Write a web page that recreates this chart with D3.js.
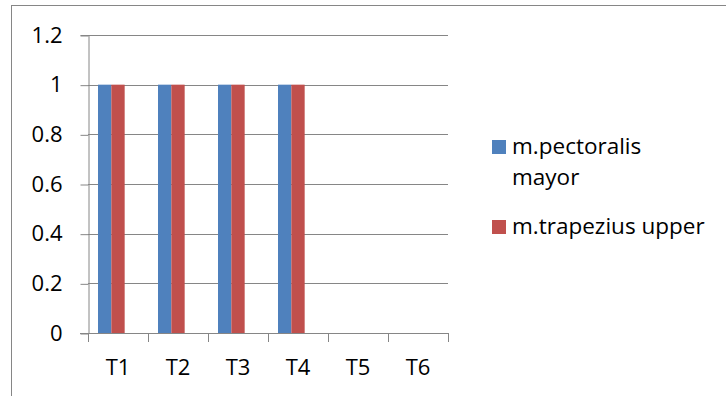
<!DOCTYPE html>
<html>
<head>
<meta charset="utf-8">
<script src="https://cdn.jsdelivr.net/npm/d3@7"></script>
<style>
  html, body { margin: 0; padding: 0; background: #fff; }
  svg { display: block; }
  text { font-family: "Open Sans", Lato, sans-serif; fill: #000; }
</style>
</head>
<body>
<svg id="chart" width="726" height="396"></svg>
<script>
// Categories, series and axis ticks
const categories = ["T1", "T2", "T3", "T4", "T5", "T6"];
const seriesNames = ["m.pectoralis mayor", "m.trapezius upper"];
const pectoralisValues = [1, 1, 1, 1, 0, 0];
const trapeziusValues = [1, 1, 1, 1, 0, 0];
const yTicks = [0, 0.2, 0.4, 0.6, 0.8, 1, 1.2];
const seriesColors = ["#4F81BD", "#C0504D"];

// Each category band holds three bar slots; the last one stays empty
const slotCount = 3;

const rows = categories.map((c, i) => ({
  cat: c,
  values: [pectoralisValues[i], trapeziusValues[i]]
}));

const svg = d3.select("#chart");
const gridColor = "#868686";
const fontSize = 22;
const fontFamily = "'Open Sans', Lato, sans-serif";

// Outer chart border
svg.append("rect")
  .attr("x", 11.5).attr("y", 5.5)
  .attr("width", 730).attr("height", 400)
  .attr("fill", "none").attr("stroke", gridColor).attr("stroke-width", 1);

const plot = { left: 88, right: 448, top: 35, bottom: 333 };

const x = d3.scaleBand().domain(categories).range([plot.left, plot.right]).padding(0);
const xs = d3.scaleBand().domain(d3.range(slotCount))
  .range([0, x.bandwidth()]).paddingInner(0).paddingOuter(0.75);
const y = d3.scaleLinear().domain([0, 1.2]).range([plot.bottom, plot.top]);

// Horizontal gridlines
svg.append("g").selectAll("line")
  .data(yTicks.filter(t => t > 0))
  .join("line")
  .attr("x1", plot.left).attr("x2", plot.right)
  .attr("y1", d => Math.round(y(d)) + 0.5).attr("y2", d => Math.round(y(d)) + 0.5)
  .attr("stroke", gridColor).attr("stroke-width", 1);

// Bars
const groups = svg.append("g").selectAll("g")
  .data(rows).join("g")
  .attr("transform", d => `translate(${x(d.cat)},0)`);
groups.selectAll("rect")
  .data(d => d.values.map((v, i) => ({ v, i })))
  .join("rect")
  .attr("x", d => xs(d.i))
  .attr("width", xs.bandwidth())
  .attr("y", d => y(d.v))
  .attr("height", d => y(0) - y(d.v))
  .attr("fill", d => seriesColors[d.i]);

// Y axis
const yAxis = svg.append("g")
  .attr("transform", `translate(${plot.left + 0.5},0)`)
  .call(d3.axisLeft(y).tickValues(yTicks).tickSize(8).tickPadding(18)
    .tickFormat(d3.format("~g")));
yAxis.select(".domain").attr("stroke", gridColor);
yAxis.selectAll(".tick line").attr("stroke", gridColor)
  .attr("transform", "translate(0,0.5)");
yAxis.selectAll("text").attr("font-size", fontSize)
  .style("font-family", fontFamily).attr("fill", "#000");

// X axis line with ticks between categories
const xAxis = svg.append("g");
xAxis.append("line")
  .attr("x1", plot.left - 8).attr("x2", plot.right + 0.5)
  .attr("y1", Math.round(y(0)) + 0.5).attr("y2", Math.round(y(0)) + 0.5)
  .attr("stroke", gridColor);
const boundaries = categories.map(c => x(c)).concat([x.range()[1]]);
xAxis.selectAll("line.tick")
  .data(boundaries).join("line").attr("class", "tick")
  .attr("x1", d => Math.round(d) + 0.5).attr("x2", d => Math.round(d) + 0.5)
  .attr("y1", Math.round(y(0))).attr("y2", Math.round(y(0)) + 9)
  .attr("stroke", gridColor);
xAxis.selectAll("text")
  .data(categories).join("text")
  .attr("x", d => x(d) + x.bandwidth() / 2)
  .attr("y", 375)
  .attr("text-anchor", "middle")
  .attr("font-size", fontSize)
  .text(d => d);

// Legend
const legend = svg.append("g");
const legendItems = [
  { color: seriesColors[0], lines: ["m.pectoralis", "mayor"], top: 140 },
  { color: seriesColors[1], lines: ["m.trapezius upper"], top: 220 }
];
legendItems.forEach(item => {
  legend.append("rect")
    .attr("x", 492).attr("y", item.top)
    .attr("width", 14).attr("height", 14)
    .attr("fill", item.color);
  item.lines.forEach((ln, j) => {
    legend.append("text")
      .attr("x", 512).attr("y", item.top + 14 + j * 31)
      .attr("font-size", 22.5)
      .text(ln);
  });
});
</script>
</body>
</html>
